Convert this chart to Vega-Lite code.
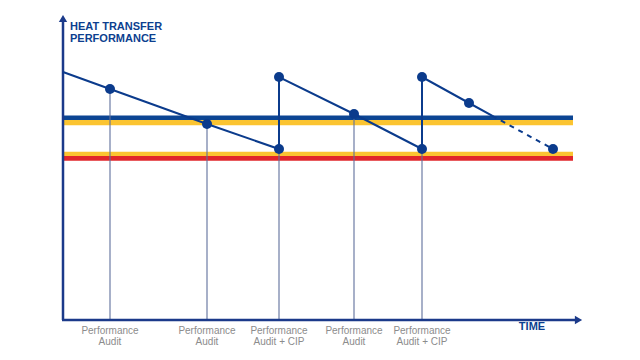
{
  "$schema": "https://vega.github.io/schema/vega-lite/v6.json",
  "width": 640,
  "height": 360,
  "padding": 0,
  "autosize": {"type": "fit", "contains": "padding"},
  "background": "white",
  "config": {"view": {"stroke": null}},
  "datasets": {
    "bands": [
      {"band": "upper-yellow", "x0": 63, "x1": 573, "lo": 234.7, "hi": 239.9, "c": "#fbc431"},
      {"band": "upper-blue", "x0": 63, "x1": 573, "lo": 239.9, "hi": 244.4, "c": "#0c4593"},
      {"band": "lower-red", "x0": 63, "x1": 573, "lo": 199.2, "hi": 204, "c": "#e1262b"},
      {"band": "lower-yellow", "x0": 63, "x1": 573, "lo": 204, "hi": 208.2, "c": "#fbc431"}
    ],
    "audits": [
      {"t": 110, "perf": 271, "label": "Performance\nAudit"},
      {"t": 207, "perf": 236, "label": "Performance\nAudit"},
      {"t": 279, "perf": 211, "label": "Performance\nAudit + CIP"},
      {"t": 354, "perf": 246, "label": "Performance\nAudit"},
      {"t": 422, "perf": 211, "label": "Performance\nAudit + CIP"}
    ],
    "solid": [
      {"i": 1, "t": 63, "perf": 288},
      {"i": 2, "t": 110, "perf": 271},
      {"i": 3, "t": 207, "perf": 236},
      {"i": 4, "t": 279, "perf": 211},
      {"i": 5, "t": 279, "perf": 283},
      {"i": 6, "t": 354, "perf": 246},
      {"i": 7, "t": 422, "perf": 211},
      {"i": 8, "t": 422, "perf": 283},
      {"i": 9, "t": 469, "perf": 257},
      {"i": 10, "t": 492, "perf": 244.3}
    ],
    "dashed": [
      {"i": 1, "t": 492, "perf": 244.3},
      {"i": 2, "t": 553, "perf": 211}
    ],
    "dots": [
      {"t": 110, "perf": 271},
      {"t": 207, "perf": 236},
      {"t": 279, "perf": 211},
      {"t": 279, "perf": 283},
      {"t": 354, "perf": 246},
      {"t": 422, "perf": 211},
      {"t": 422, "perf": 283},
      {"t": 469, "perf": 257},
      {"t": 553, "perf": 211}
    ],
    "axes": [
      {"name": "y", "t0": 63, "t1": 63, "p0": 40, "p1": 340},
      {"name": "x", "t0": 62, "t1": 577, "p0": 40, "p1": 40}
    ],
    "arrows": [
      {"name": "y", "t": 63, "perf": 341.5, "shape": "triangle-up"},
      {"name": "x", "t": 578.5, "perf": 40, "shape": "triangle-right"}
    ],
    "ytitle": [
      {"t": 70, "perf": 333, "txt": "HEAT TRANSFER\nPERFORMANCE"}
    ],
    "xtitle": [
      {"t": 532, "perf": 33, "txt": "TIME"}
    ]
  },
  "encoding": {},
  "layer": [
    {
      "data": {"name": "bands"},
      "mark": {"type": "rect"},
      "encoding": {
        "x": {"field": "x0", "type": "quantitative", "scale": {"domain": [0, 640], "nice": false, "zero": false}, "axis": null},
        "x2": {"field": "x1"},
        "y": {"field": "lo", "type": "quantitative", "scale": {"domain": [0, 360], "nice": false, "zero": false}, "axis": null},
        "y2": {"field": "hi"},
        "color": {"field": "c", "type": "nominal", "scale": null, "legend": null}
      }
    },
    {
      "data": {"name": "audits"},
      "mark": {"type": "rule", "color": "#5f6f9c", "strokeWidth": 1.1},
      "encoding": {
        "x": {"field": "t", "type": "quantitative"},
        "y": {"field": "perf", "type": "quantitative"},
        "y2": {"datum": 40}
      }
    },
    {
      "data": {"name": "axes"},
      "mark": {"type": "rule", "color": "#1b3a8a", "strokeWidth": 2.5},
      "encoding": {
        "x": {"field": "t0", "type": "quantitative"},
        "x2": {"field": "t1"},
        "y": {"field": "p0", "type": "quantitative"},
        "y2": {"field": "p1"}
      }
    },
    {
      "data": {"name": "arrows"},
      "mark": {"type": "point", "filled": true, "color": "#1b3a8a", "size": 70, "opacity": 1},
      "encoding": {
        "x": {"field": "t", "type": "quantitative"},
        "y": {"field": "perf", "type": "quantitative"},
        "shape": {"field": "shape", "type": "nominal", "scale": null, "legend": null}
      }
    },
    {
      "data": {"name": "solid"},
      "mark": {"type": "line", "color": "#0b3b8c", "strokeWidth": 2},
      "encoding": {
        "x": {"field": "t", "type": "quantitative"},
        "y": {"field": "perf", "type": "quantitative"},
        "order": {"field": "i", "type": "quantitative"}
      }
    },
    {
      "data": {"name": "dashed"},
      "mark": {"type": "line", "color": "#0b3b8c", "strokeWidth": 2, "strokeDash": [5, 5]},
      "encoding": {
        "x": {"field": "t", "type": "quantitative"},
        "y": {"field": "perf", "type": "quantitative"},
        "order": {"field": "i", "type": "quantitative"}
      }
    },
    {
      "data": {"name": "dots"},
      "mark": {"type": "circle", "color": "#0b3b8c", "size": 100, "opacity": 1},
      "encoding": {
        "x": {"field": "t", "type": "quantitative"},
        "y": {"field": "perf", "type": "quantitative"}
      }
    },
    {
      "data": {"name": "audits"},
      "mark": {"type": "text", "color": "#8c8c8c", "fontSize": 10, "font": "Liberation Sans", "baseline": "top", "align": "center", "lineBreak": "\n", "lineHeight": 11},
      "encoding": {
        "x": {"field": "t", "type": "quantitative"},
        "y": {"datum": 34},
        "text": {"field": "label"}
      }
    },
    {
      "data": {"name": "ytitle"},
      "mark": {"type": "text", "color": "#0d3f8f", "fontSize": 11, "fontWeight": "bold", "font": "Liberation Sans", "baseline": "middle", "align": "left", "lineBreak": "\n", "lineHeight": 12},
      "encoding": {
        "x": {"field": "t", "type": "quantitative"},
        "y": {"field": "perf", "type": "quantitative"},
        "text": {"field": "txt"}
      }
    },
    {
      "data": {"name": "xtitle"},
      "mark": {"type": "text", "color": "#0d3f8f", "fontSize": 11, "fontWeight": "bold", "font": "Liberation Sans", "baseline": "middle", "align": "center"},
      "encoding": {
        "x": {"field": "t", "type": "quantitative"},
        "y": {"field": "perf", "type": "quantitative"},
        "text": {"field": "txt"}
      }
    }
  ]
}
